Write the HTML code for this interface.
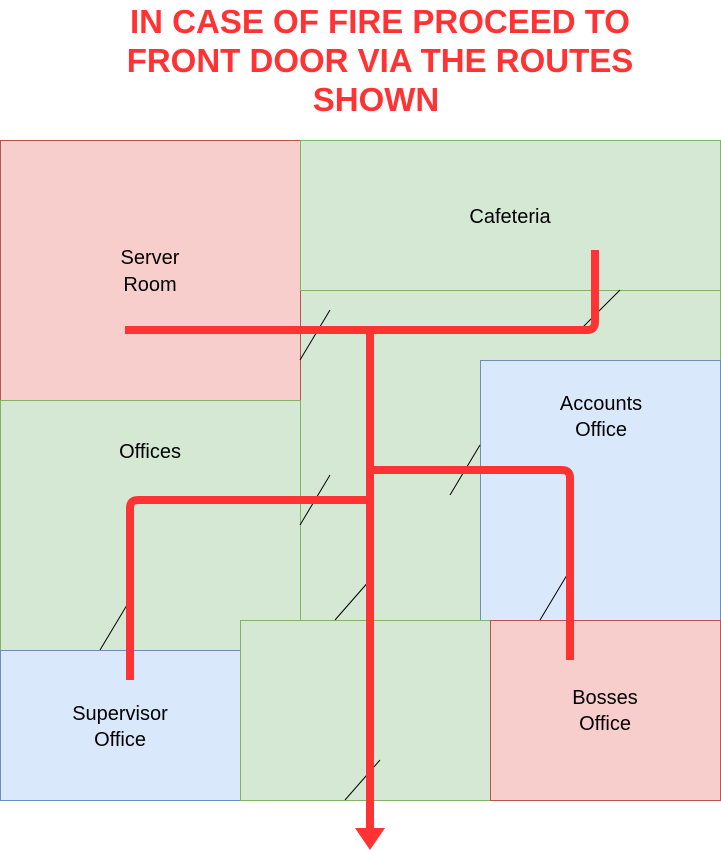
<!DOCTYPE html>
<html><head><meta charset="utf-8"><style>
html,body{margin:0;padding:0;background:#fff;}
svg{display:block;font-family:"Liberation Sans",Arial,sans-serif;}
</style></head><body>
<svg width="721" height="852" viewBox="0 0 721 852">
<g fill="#ff3333" font-weight="bold" font-size="33" text-anchor="middle">
<text x="380" y="33">IN CASE OF FIRE PROCEED TO</text>
<text x="380" y="72">FRONT DOOR VIA THE ROUTES</text>
<text x="376" y="111">SHOWN</text>
</g>
<rect x="300.5" y="290.5" width="420" height="330" fill="#d5e8d4" stroke="#82b366"/>
<rect x="0.5" y="140.5" width="300" height="260" fill="#f8cecc" stroke="#b85450"/>
<rect x="300.5" y="140.5" width="420" height="150" fill="#d5e8d4" stroke="#82b366"/>
<rect x="0.5" y="400.5" width="300" height="250" fill="#d5e8d4" stroke="#82b366"/>
<rect x="480.5" y="360.5" width="240" height="260" fill="#dae8fc" stroke="#6c8ebf"/>
<rect x="0.5" y="650.5" width="240" height="150" fill="#dae8fc" stroke="#6c8ebf"/>
<rect x="240.5" y="620.5" width="250" height="180" fill="#d5e8d4" stroke="#82b366"/>
<rect x="490.5" y="620.5" width="230" height="180" fill="#f8cecc" stroke="#b85450"/>
<g font-size="20" text-anchor="middle" fill="#000">
<text x="150" y="264">Server</text><text x="150" y="291">Room</text>
<text x="510" y="223">Cafeteria</text>
<text x="150" y="458">Offices</text>
<text x="601" y="410">Accounts</text><text x="601" y="436">Office</text>
<text x="120" y="720">Supervisor</text><text x="120" y="746">Office</text>
<text x="605" y="704">Bosses</text><text x="605" y="730">Office</text>
</g>
<g stroke="#000" stroke-width="1">
<line x1="300" y1="360" x2="330" y2="310"/>
<line x1="580" y1="330" x2="620" y2="290"/>
<line x1="300" y1="525" x2="330" y2="475"/>
<line x1="450" y1="495" x2="480" y2="445"/>
<line x1="335" y1="620" x2="370" y2="580"/>
<line x1="540" y1="620" x2="570" y2="570"/>
<line x1="100" y1="650" x2="130" y2="600"/>
<line x1="345" y1="800" x2="380" y2="760"/>
</g>
<g fill="none" stroke="#ff3333" stroke-width="8" stroke-linejoin="round">
<path d="M125 330 H587 Q595 330 595 322 V250"/>
<path d="M370 330 V830"/>
<path d="M370 470 H562 Q570 470 570 478 V660"/>
<path d="M370 500 H138 Q130 500 130 508 V680"/>
</g>
<polygon points="355,828 385,828 370,850" fill="#ff3333"/>
</svg>
</body></html>
